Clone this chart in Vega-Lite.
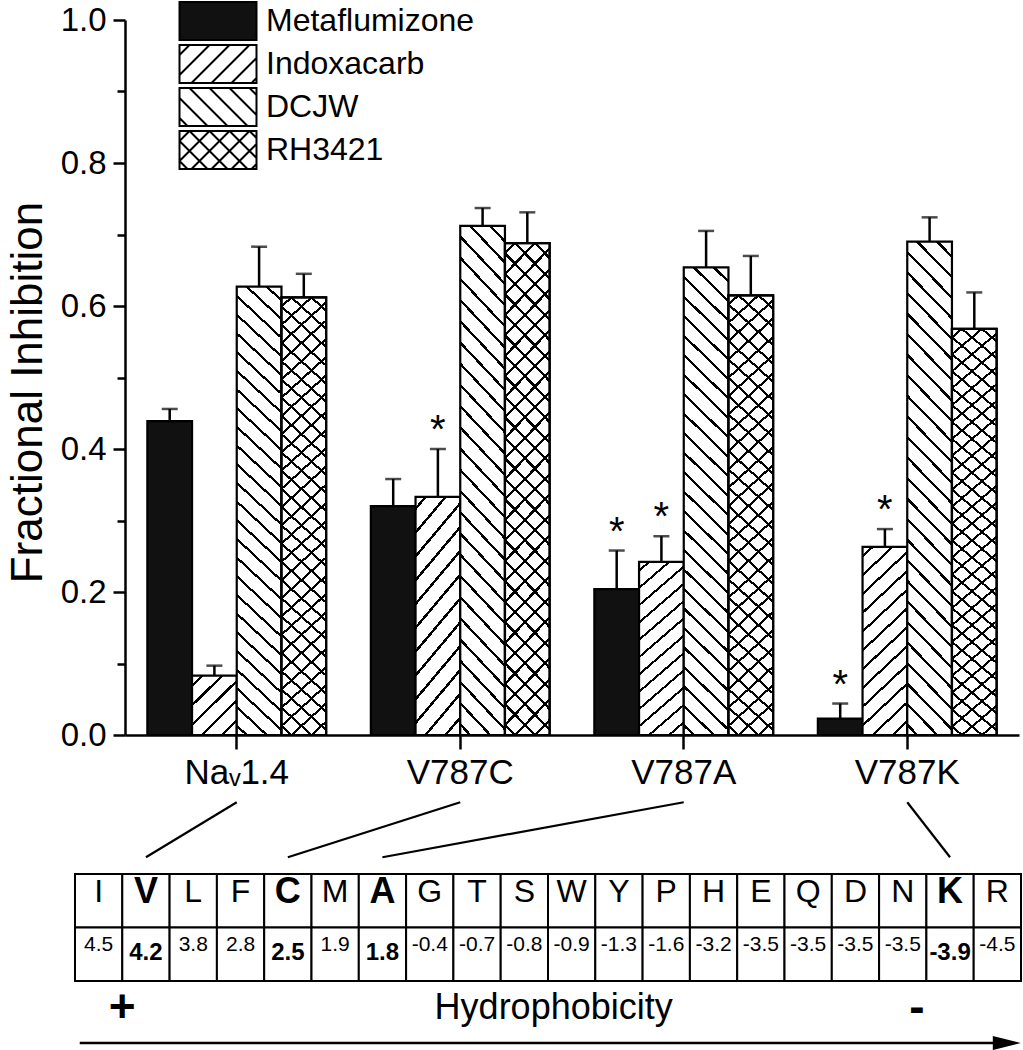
{
 "$schema": "https://vega.github.io/schema/vega-lite/v6.json",
 "width": 898,
 "height": 735,
 "autosize": {"type": "none"},
 "padding": {"left": 125, "top": 0, "right": 0, "bottom": 315},
 "background": "white",
 "config": {"view": {"stroke": null}, "font": "Liberation Sans"},
 "datasets": {
  "bars": [
   {"group": "Nav1.4", "drug": "Metaflumizone", "value": 0.439, "upper": 0.456, "sig": false},
   {"group": "Nav1.4", "drug": "Indoxacarb", "value": 0.083, "upper": 0.097, "sig": false},
   {"group": "Nav1.4", "drug": "DCJW", "value": 0.627, "upper": 0.683, "sig": false},
   {"group": "Nav1.4", "drug": "RH3421", "value": 0.612, "upper": 0.645, "sig": false},
   {"group": "V787C", "drug": "Metaflumizone", "value": 0.320, "upper": 0.358, "sig": false},
   {"group": "V787C", "drug": "Indoxacarb", "value": 0.333, "upper": 0.400, "sig": true},
   {"group": "V787C", "drug": "DCJW", "value": 0.712, "upper": 0.737, "sig": false},
   {"group": "V787C", "drug": "RH3421", "value": 0.688, "upper": 0.731, "sig": false},
   {"group": "V787A", "drug": "Metaflumizone", "value": 0.204, "upper": 0.258, "sig": true},
   {"group": "V787A", "drug": "Indoxacarb", "value": 0.242, "upper": 0.278, "sig": true},
   {"group": "V787A", "drug": "DCJW", "value": 0.654, "upper": 0.705, "sig": false},
   {"group": "V787A", "drug": "RH3421", "value": 0.615, "upper": 0.670, "sig": false},
   {"group": "V787K", "drug": "Metaflumizone", "value": 0.023, "upper": 0.044, "sig": true},
   {"group": "V787K", "drug": "Indoxacarb", "value": 0.263, "upper": 0.288, "sig": true},
   {"group": "V787K", "drug": "DCJW", "value": 0.690, "upper": 0.724, "sig": false},
   {"group": "V787K", "drug": "RH3421", "value": 0.568, "upper": 0.619, "sig": false}
  ],
  "residues": [
   {"aa": "I", "hyd": 4.5, "highlight": false},
   {"aa": "V", "hyd": 4.2, "highlight": true},
   {"aa": "L", "hyd": 3.8, "highlight": false},
   {"aa": "F", "hyd": 2.8, "highlight": false},
   {"aa": "C", "hyd": 2.5, "highlight": true},
   {"aa": "M", "hyd": 1.9, "highlight": false},
   {"aa": "A", "hyd": 1.8, "highlight": true},
   {"aa": "G", "hyd": -0.4, "highlight": false},
   {"aa": "T", "hyd": -0.7, "highlight": false},
   {"aa": "S", "hyd": -0.8, "highlight": false},
   {"aa": "W", "hyd": -0.9, "highlight": false},
   {"aa": "Y", "hyd": -1.3, "highlight": false},
   {"aa": "P", "hyd": -1.6, "highlight": false},
   {"aa": "H", "hyd": -3.2, "highlight": false},
   {"aa": "E", "hyd": -3.5, "highlight": false},
   {"aa": "Q", "hyd": -3.5, "highlight": false},
   {"aa": "D", "hyd": -3.5, "highlight": false},
   {"aa": "N", "hyd": -3.5, "highlight": false},
   {"aa": "K", "hyd": -3.9, "highlight": true},
   {"aa": "R", "hyd": -4.5, "highlight": false}
  ],
  "links": [
   {"group": "Nav1.4", "residue": "V"},
   {"group": "V787C", "residue": "C"},
   {"group": "V787A", "residue": "A"},
   {"group": "V787K", "residue": "K"}
  ]
 },
 "layer": [
  {
   "name": "chart",
   "data": {"name": "bars"},
   "layer": [
    {
     "mark": {"type": "bar", "strokeWidth": 2.2, "stroke": "black"},
     "encoding": {
      "x": {"field": "group", "type": "nominal", "sort": null,
            "scale": {"domain": ["Nav1.4", "V787C", "V787A", "V787K"], "range": [0, 894], "paddingInner": 0.2, "paddingOuter": 0.1},
            "axis": {"title": null, "labelAngle": 0, "labelFontSize": 35, "labelColor": "black", "labelPadding": 6,
                     "tickSize": 14, "tickWidth": 2.5, "tickColor": "black", "domainColor": "black", "domainWidth": 2.5, "grid": false,
                     "labelExpr": "datum.value === 'Nav1.4' ? 'Naᵥ1.4' : datum.value"}},
      "xOffset": {"field": "drug", "type": "nominal", "sort": null,
                  "scale": {"domain": ["Metaflumizone", "Indoxacarb", "DCJW", "RH3421"], "paddingInner": 0, "paddingOuter": 0}},
      "y": {"field": "value", "type": "quantitative",
            "scale": {"domain": [0, 1], "range": [735, 20], "nice": false, "zero": false},
            "axis": {"values": [0, 0.1, 0.2, 0.3, 0.4, 0.5, 0.6, 0.7, 0.8, 0.9, 1.0], "grid": false,
                     "labelExpr": "round(datum.value * 10) % 2 === 0 ? format(datum.value, '.1f') : ''",
                     "tickSize": {"condition": {"test": "round(datum.value * 10) % 2 === 1", "value": 8}, "value": 12},
                     "tickWidth": 2.5, "tickColor": "black", "domainColor": "black", "domainWidth": 2.5,
                     "labelFontSize": 33, "labelColor": "black", "labelPadding": 7,
                     "title": "Fractional Inhibition", "titleFontSize": 44, "titleFontWeight": "normal", "titleColor": "black",
                     "titlePadding": 10, "titleY": 392}},
      "fill": {
       "condition": [
        {"test": "datum.drug === 'Indoxacarb' && datum.value < 0.15",
         "value": {"gradient": "linear", "x1": 0, "y1": 0, "x2": 0.83602, "y2": 1.12218, "stops": [
          {"offset": 0.0802, "color": "white"}, {"offset": 0.0802, "color": "black"}, {"offset": 0.1108, "color": "black"}, {"offset": 0.1108, "color": "white"},
          {"offset": 0.2713, "color": "white"}, {"offset": 0.2713, "color": "black"}, {"offset": 0.3018, "color": "black"}, {"offset": 0.3018, "color": "white"},
          {"offset": 0.4623, "color": "white"}, {"offset": 0.4623, "color": "black"}, {"offset": 0.4928, "color": "black"}, {"offset": 0.4928, "color": "white"},
          {"offset": 0.6533, "color": "white"}, {"offset": 0.6533, "color": "black"}, {"offset": 0.6839, "color": "black"}, {"offset": 0.6839, "color": "white"},
          {"offset": 0.8443, "color": "white"}, {"offset": 0.8443, "color": "black"}, {"offset": 0.8749, "color": "black"}, {"offset": 0.8749, "color": "white"}
         ]}},
        {"test": "datum.drug === 'Indoxacarb'",
         "value": {"gradient": "linear", "x1": 0, "y1": 0, "x2": 0.26044, "y2": 1.1653, "stops": [
          {"offset": 0.0343, "color": "white"}, {"offset": 0.0343, "color": "black"}, {"offset": 0.0474, "color": "black"}, {"offset": 0.0474, "color": "white"},
          {"offset": 0.1161, "color": "white"}, {"offset": 0.1161, "color": "black"}, {"offset": 0.1291, "color": "black"}, {"offset": 0.1291, "color": "white"},
          {"offset": 0.1978, "color": "white"}, {"offset": 0.1978, "color": "black"}, {"offset": 0.2109, "color": "black"}, {"offset": 0.2109, "color": "white"},
          {"offset": 0.2795, "color": "white"}, {"offset": 0.2795, "color": "black"}, {"offset": 0.2926, "color": "black"}, {"offset": 0.2926, "color": "white"},
          {"offset": 0.3613, "color": "white"}, {"offset": 0.3613, "color": "black"}, {"offset": 0.3743, "color": "black"}, {"offset": 0.3743, "color": "white"},
          {"offset": 0.4430, "color": "white"}, {"offset": 0.4430, "color": "black"}, {"offset": 0.4561, "color": "black"}, {"offset": 0.4561, "color": "white"},
          {"offset": 0.5247, "color": "white"}, {"offset": 0.5247, "color": "black"}, {"offset": 0.5378, "color": "black"}, {"offset": 0.5378, "color": "white"},
          {"offset": 0.6065, "color": "white"}, {"offset": 0.6065, "color": "black"}, {"offset": 0.6195, "color": "black"}, {"offset": 0.6195, "color": "white"},
          {"offset": 0.6882, "color": "white"}, {"offset": 0.6882, "color": "black"}, {"offset": 0.7013, "color": "black"}, {"offset": 0.7013, "color": "white"},
          {"offset": 0.7699, "color": "white"}, {"offset": 0.7699, "color": "black"}, {"offset": 0.7830, "color": "black"}, {"offset": 0.7830, "color": "white"},
          {"offset": 0.8517, "color": "white"}, {"offset": 0.8517, "color": "black"}, {"offset": 0.8647, "color": "black"}, {"offset": 0.8647, "color": "white"},
          {"offset": 0.9334, "color": "white"}, {"offset": 0.9334, "color": "black"}, {"offset": 0.9465, "color": "black"}, {"offset": 0.9465, "color": "white"}
         ]}},
        {"test": "datum.drug === 'DCJW' || datum.drug === 'RH3421'",
         "value": {"gradient": "linear", "x1": 0, "y1": 1, "x2": 0.10092, "y2": -0.08374, "stops": [
          {"offset": 0.01601, "color": "white"}, {"offset": 0.01601, "color": "black"}, {"offset": 0.02211, "color": "black"}, {"offset": 0.02211, "color": "white"},
          {"offset": 0.05413, "color": "white"}, {"offset": 0.05413, "color": "black"}, {"offset": 0.06023, "color": "black"}, {"offset": 0.06023, "color": "white"},
          {"offset": 0.09225, "color": "white"}, {"offset": 0.09225, "color": "black"}, {"offset": 0.09834, "color": "black"}, {"offset": 0.09834, "color": "white"},
          {"offset": 0.13036, "color": "white"}, {"offset": 0.13036, "color": "black"}, {"offset": 0.13646, "color": "black"}, {"offset": 0.13646, "color": "white"},
          {"offset": 0.16848, "color": "white"}, {"offset": 0.16848, "color": "black"}, {"offset": 0.17458, "color": "black"}, {"offset": 0.17458, "color": "white"},
          {"offset": 0.20660, "color": "white"}, {"offset": 0.20660, "color": "black"}, {"offset": 0.21270, "color": "black"}, {"offset": 0.21270, "color": "white"},
          {"offset": 0.24472, "color": "white"}, {"offset": 0.24472, "color": "black"}, {"offset": 0.25082, "color": "black"}, {"offset": 0.25082, "color": "white"},
          {"offset": 0.28284, "color": "white"}, {"offset": 0.28284, "color": "black"}, {"offset": 0.28893, "color": "black"}, {"offset": 0.28893, "color": "white"},
          {"offset": 0.32095, "color": "white"}, {"offset": 0.32095, "color": "black"}, {"offset": 0.32705, "color": "black"}, {"offset": 0.32705, "color": "white"},
          {"offset": 0.35907, "color": "white"}, {"offset": 0.35907, "color": "black"}, {"offset": 0.36517, "color": "black"}, {"offset": 0.36517, "color": "white"},
          {"offset": 0.39719, "color": "white"}, {"offset": 0.39719, "color": "black"}, {"offset": 0.40329, "color": "black"}, {"offset": 0.40329, "color": "white"},
          {"offset": 0.43531, "color": "white"}, {"offset": 0.43531, "color": "black"}, {"offset": 0.44140, "color": "black"}, {"offset": 0.44140, "color": "white"},
          {"offset": 0.47343, "color": "white"}, {"offset": 0.47343, "color": "black"}, {"offset": 0.47952, "color": "black"}, {"offset": 0.47952, "color": "white"},
          {"offset": 0.51154, "color": "white"}, {"offset": 0.51154, "color": "black"}, {"offset": 0.51764, "color": "black"}, {"offset": 0.51764, "color": "white"},
          {"offset": 0.54966, "color": "white"}, {"offset": 0.54966, "color": "black"}, {"offset": 0.55576, "color": "black"}, {"offset": 0.55576, "color": "white"},
          {"offset": 0.58778, "color": "white"}, {"offset": 0.58778, "color": "black"}, {"offset": 0.59388, "color": "black"}, {"offset": 0.59388, "color": "white"},
          {"offset": 0.62590, "color": "white"}, {"offset": 0.62590, "color": "black"}, {"offset": 0.63199, "color": "black"}, {"offset": 0.63199, "color": "white"},
          {"offset": 0.66401, "color": "white"}, {"offset": 0.66401, "color": "black"}, {"offset": 0.67011, "color": "black"}, {"offset": 0.67011, "color": "white"},
          {"offset": 0.70213, "color": "white"}, {"offset": 0.70213, "color": "black"}, {"offset": 0.70823, "color": "black"}, {"offset": 0.70823, "color": "white"},
          {"offset": 0.74025, "color": "white"}, {"offset": 0.74025, "color": "black"}, {"offset": 0.74635, "color": "black"}, {"offset": 0.74635, "color": "white"},
          {"offset": 0.77837, "color": "white"}, {"offset": 0.77837, "color": "black"}, {"offset": 0.78447, "color": "black"}, {"offset": 0.78447, "color": "white"},
          {"offset": 0.81649, "color": "white"}, {"offset": 0.81649, "color": "black"}, {"offset": 0.82258, "color": "black"}, {"offset": 0.82258, "color": "white"},
          {"offset": 0.85460, "color": "white"}, {"offset": 0.85460, "color": "black"}, {"offset": 0.86070, "color": "black"}, {"offset": 0.86070, "color": "white"},
          {"offset": 0.89272, "color": "white"}, {"offset": 0.89272, "color": "black"}, {"offset": 0.89882, "color": "black"}, {"offset": 0.89882, "color": "white"},
          {"offset": 0.93084, "color": "white"}, {"offset": 0.93084, "color": "black"}, {"offset": 0.93694, "color": "black"}, {"offset": 0.93694, "color": "white"},
          {"offset": 0.96895, "color": "white"}, {"offset": 0.96895, "color": "black"}, {"offset": 0.97505, "color": "black"}, {"offset": 0.97505, "color": "white"}
         ]}}
       ],
       "value": "#111111"
      }
     }
    },
    {
     "transform": [{"filter": "datum.drug === 'RH3421'"}],
     "mark": {"type": "bar", "strokeWidth": 2.2, "stroke": "black",
              "fill": {"gradient": "linear", "x1": 0, "y1": 0, "x2": 0.10092, "y2": 1.08374, "stops": [
          {"offset": 0.01601, "color": "rgba(255,255,255,0)"}, {"offset": 0.01601, "color": "black"}, {"offset": 0.02211, "color": "black"}, {"offset": 0.02211, "color": "rgba(255,255,255,0)"},
          {"offset": 0.05413, "color": "rgba(255,255,255,0)"}, {"offset": 0.05413, "color": "black"}, {"offset": 0.06023, "color": "black"}, {"offset": 0.06023, "color": "rgba(255,255,255,0)"},
          {"offset": 0.09225, "color": "rgba(255,255,255,0)"}, {"offset": 0.09225, "color": "black"}, {"offset": 0.09834, "color": "black"}, {"offset": 0.09834, "color": "rgba(255,255,255,0)"},
          {"offset": 0.13036, "color": "rgba(255,255,255,0)"}, {"offset": 0.13036, "color": "black"}, {"offset": 0.13646, "color": "black"}, {"offset": 0.13646, "color": "rgba(255,255,255,0)"},
          {"offset": 0.16848, "color": "rgba(255,255,255,0)"}, {"offset": 0.16848, "color": "black"}, {"offset": 0.17458, "color": "black"}, {"offset": 0.17458, "color": "rgba(255,255,255,0)"},
          {"offset": 0.20660, "color": "rgba(255,255,255,0)"}, {"offset": 0.20660, "color": "black"}, {"offset": 0.21270, "color": "black"}, {"offset": 0.21270, "color": "rgba(255,255,255,0)"},
          {"offset": 0.24472, "color": "rgba(255,255,255,0)"}, {"offset": 0.24472, "color": "black"}, {"offset": 0.25082, "color": "black"}, {"offset": 0.25082, "color": "rgba(255,255,255,0)"},
          {"offset": 0.28284, "color": "rgba(255,255,255,0)"}, {"offset": 0.28284, "color": "black"}, {"offset": 0.28893, "color": "black"}, {"offset": 0.28893, "color": "rgba(255,255,255,0)"},
          {"offset": 0.32095, "color": "rgba(255,255,255,0)"}, {"offset": 0.32095, "color": "black"}, {"offset": 0.32705, "color": "black"}, {"offset": 0.32705, "color": "rgba(255,255,255,0)"},
          {"offset": 0.35907, "color": "rgba(255,255,255,0)"}, {"offset": 0.35907, "color": "black"}, {"offset": 0.36517, "color": "black"}, {"offset": 0.36517, "color": "rgba(255,255,255,0)"},
          {"offset": 0.39719, "color": "rgba(255,255,255,0)"}, {"offset": 0.39719, "color": "black"}, {"offset": 0.40329, "color": "black"}, {"offset": 0.40329, "color": "rgba(255,255,255,0)"},
          {"offset": 0.43531, "color": "rgba(255,255,255,0)"}, {"offset": 0.43531, "color": "black"}, {"offset": 0.44140, "color": "black"}, {"offset": 0.44140, "color": "rgba(255,255,255,0)"},
          {"offset": 0.47343, "color": "rgba(255,255,255,0)"}, {"offset": 0.47343, "color": "black"}, {"offset": 0.47952, "color": "black"}, {"offset": 0.47952, "color": "rgba(255,255,255,0)"},
          {"offset": 0.51154, "color": "rgba(255,255,255,0)"}, {"offset": 0.51154, "color": "black"}, {"offset": 0.51764, "color": "black"}, {"offset": 0.51764, "color": "rgba(255,255,255,0)"},
          {"offset": 0.54966, "color": "rgba(255,255,255,0)"}, {"offset": 0.54966, "color": "black"}, {"offset": 0.55576, "color": "black"}, {"offset": 0.55576, "color": "rgba(255,255,255,0)"},
          {"offset": 0.58778, "color": "rgba(255,255,255,0)"}, {"offset": 0.58778, "color": "black"}, {"offset": 0.59388, "color": "black"}, {"offset": 0.59388, "color": "rgba(255,255,255,0)"},
          {"offset": 0.62590, "color": "rgba(255,255,255,0)"}, {"offset": 0.62590, "color": "black"}, {"offset": 0.63199, "color": "black"}, {"offset": 0.63199, "color": "rgba(255,255,255,0)"},
          {"offset": 0.66401, "color": "rgba(255,255,255,0)"}, {"offset": 0.66401, "color": "black"}, {"offset": 0.67011, "color": "black"}, {"offset": 0.67011, "color": "rgba(255,255,255,0)"},
          {"offset": 0.70213, "color": "rgba(255,255,255,0)"}, {"offset": 0.70213, "color": "black"}, {"offset": 0.70823, "color": "black"}, {"offset": 0.70823, "color": "rgba(255,255,255,0)"},
          {"offset": 0.74025, "color": "rgba(255,255,255,0)"}, {"offset": 0.74025, "color": "black"}, {"offset": 0.74635, "color": "black"}, {"offset": 0.74635, "color": "rgba(255,255,255,0)"},
          {"offset": 0.77837, "color": "rgba(255,255,255,0)"}, {"offset": 0.77837, "color": "black"}, {"offset": 0.78447, "color": "black"}, {"offset": 0.78447, "color": "rgba(255,255,255,0)"},
          {"offset": 0.81649, "color": "rgba(255,255,255,0)"}, {"offset": 0.81649, "color": "black"}, {"offset": 0.82258, "color": "black"}, {"offset": 0.82258, "color": "rgba(255,255,255,0)"},
          {"offset": 0.85460, "color": "rgba(255,255,255,0)"}, {"offset": 0.85460, "color": "black"}, {"offset": 0.86070, "color": "black"}, {"offset": 0.86070, "color": "rgba(255,255,255,0)"},
          {"offset": 0.89272, "color": "rgba(255,255,255,0)"}, {"offset": 0.89272, "color": "black"}, {"offset": 0.89882, "color": "black"}, {"offset": 0.89882, "color": "rgba(255,255,255,0)"},
          {"offset": 0.93084, "color": "rgba(255,255,255,0)"}, {"offset": 0.93084, "color": "black"}, {"offset": 0.93694, "color": "black"}, {"offset": 0.93694, "color": "rgba(255,255,255,0)"},
          {"offset": 0.96895, "color": "rgba(255,255,255,0)"}, {"offset": 0.96895, "color": "black"}, {"offset": 0.97505, "color": "black"}, {"offset": 0.97505, "color": "rgba(255,255,255,0)"}
         ]}},
     "encoding": {
      "x": {"field": "group", "type": "nominal"},
      "xOffset": {"field": "drug", "type": "nominal"},
      "y": {"field": "value", "type": "quantitative"}
     }
    },
    {
     "mark": {"type": "rule", "strokeWidth": 2.5, "color": "black"},
     "encoding": {
      "x": {"field": "group", "type": "nominal"},
      "xOffset": {"field": "drug", "type": "nominal"},
      "y": {"field": "value", "type": "quantitative"},
      "y2": {"field": "upper"}
     }
    },
    {
     "mark": {"type": "tick", "thickness": 2.5, "size": 16, "color": "black", "orient": "horizontal"},
     "encoding": {
      "x": {"field": "group", "type": "nominal"},
      "xOffset": {"field": "drug", "type": "nominal"},
      "y": {"field": "upper", "type": "quantitative"}
     }
    },
    {
     "transform": [{"filter": "datum.sig"}],
     "mark": {"type": "text", "text": "*", "fontSize": 40, "baseline": "alphabetic", "dy": -6, "color": "black"},
     "encoding": {
      "x": {"field": "group", "type": "nominal"},
      "xOffset": {"field": "drug", "type": "nominal"},
      "y": {"field": "upper", "type": "quantitative"}
     }
    },
    {
     "mark": {"type": "point", "opacity": 0, "filled": true},
     "encoding": {
      "x": {"field": "group", "type": "nominal"},
      "xOffset": {"field": "drug", "type": "nominal"},
      "y": {"field": "value", "type": "quantitative"},
      "shape": {"field": "drug", "type": "nominal",
                "scale": {"domain": ["Metaflumizone", "Indoxacarb", "DCJW", "RH3421"],
                          "range": ["M-2.026,-1H2.026V1H-2.026Z",
                                    "M-2.026,-1H2.026V1H-2.026ZM-1.5,-1L-2.026,-0.474M-0.447,-1L-2.026,0.579M0.605,-1L-1.395,1M1.658,-1L-0.342,1M2.026,-0.316L0.711,1M2.026,0.737L1.763,1",
                                    "M-2.026,-1H2.026V1H-2.026ZM-2.026,0.579L-1.605,1M-2.026,-0.474L-0.553,1M-1.5,-1L0.5,1M-0.447,-1L1.553,1M0.605,-1L2.026,0.421M1.658,-1L2.026,-0.632",
                                    "M-2.026,-1H2.026V1H-2.026ZM-1.5,-1L-2.026,-0.474M-0.447,-1L-2.026,0.579M0.605,-1L-1.395,1M1.658,-1L-0.342,1M2.026,-0.316L0.711,1M2.026,0.737L1.763,1M-2.026,0.579L-1.605,1M-2.026,-0.474L-0.553,1M-1.5,-1L0.5,1M-0.447,-1L1.553,1M0.605,-1L2.026,0.421M1.658,-1L2.026,-0.632"]},
                "legend": {"title": null, "orient": "none", "legendX": 73, "legendY": 1, "direction": "vertical", "padding": 0,
                           "symbolSize": 1444, "symbolStrokeWidth": 2, "symbolStrokeColor": "black", "symbolOpacity": 1,
                           "labelFontSize": 32, "labelColor": "black", "labelOffset": 28, "labelLimit": 400, "rowPadding": -4}},
      "fill": {"field": "drug", "type": "nominal",
               "scale": {"domain": ["Metaflumizone", "Indoxacarb", "DCJW", "RH3421"], "range": ["#111111", "white", "white", "white"]},
               "legend": {"title": null, "orient": "none", "legendX": 73, "legendY": 1, "direction": "vertical", "padding": 0,
                          "symbolSize": 1444, "symbolStrokeWidth": 2, "symbolStrokeColor": "black", "symbolOpacity": 1,
                          "labelFontSize": 32, "labelColor": "black", "labelOffset": 28, "labelLimit": 400, "rowPadding": -4}},
      "stroke": {"field": "drug", "type": "nominal",
                 "scale": {"domain": ["Metaflumizone", "Indoxacarb", "DCJW", "RH3421"], "range": ["black", "black", "black", "black"]},
                 "legend": {"title": null, "orient": "none", "legendX": 73, "legendY": 1, "direction": "vertical", "padding": 0,
                            "symbolSize": 1444, "symbolStrokeWidth": 2, "symbolStrokeColor": "black", "symbolOpacity": 1,
                            "labelFontSize": 32, "labelColor": "black", "labelOffset": 28, "labelLimit": 400, "rowPadding": -4}}
     }
    },
    {
     "data": {"name": "links"},
     "mark": {"type": "rule", "strokeWidth": 2.2, "color": "black"},
     "encoding": {
      "x": {"field": "group", "type": "nominal"},
      "x2": {"value": {"expr": "scale('table_x', datum.residue) + bandwidth('table_x') / 2"}},
      "y": {"datum": -0.094, "type": "quantitative"},
      "y2": {"datum": -0.171}
     }
    }
   ]
  },
  {
   "name": "table",
   "data": {"name": "residues"},
   "encoding": {
    "x": {"field": "aa", "type": "nominal", "sort": null,
          "scale": {"domain": ["I", "V", "L", "F", "C", "M", "A", "G", "T", "S", "W", "Y", "P", "H", "E", "Q", "D", "N", "K", "R"], "range": [-50, 896], "paddingInner": 0, "paddingOuter": 0},
          "axis": null}
   },
   "layer": [
    {
     "mark": {"type": "rect", "fill": "white", "stroke": "black", "strokeWidth": 2},
     "encoding": {"y": {"datum": "aa", "type": "nominal", "axis": null,
                        "scale": {"domain": ["aa", "hyd", "sign", "arrow"], "range": [874, 1088], "paddingInner": 0, "paddingOuter": 0}}}
    },
    {
     "mark": {"type": "rect", "fill": "white", "stroke": "black", "strokeWidth": 2},
     "encoding": {"y": {"datum": "hyd", "type": "nominal", "axis": null}}
    },
    {
     "transform": [{"filter": "!datum.highlight"}],
     "mark": {"type": "text", "fontSize": 32, "color": "black"},
     "encoding": {"y": {"datum": "aa", "type": "nominal", "bandPosition": 0.33, "axis": null}, "text": {"field": "aa"}}
    },
    {
     "transform": [{"filter": "datum.highlight"}],
     "mark": {"type": "text", "fontSize": 36, "fontWeight": "bold", "color": "black"},
     "encoding": {"y": {"datum": "aa", "type": "nominal", "bandPosition": 0.33, "axis": null}, "text": {"field": "aa"}}
    },
    {
     "transform": [{"filter": "!datum.highlight"}],
     "mark": {"type": "text", "fontSize": 21, "color": "black"},
     "encoding": {"y": {"datum": "hyd", "type": "nominal", "bandPosition": 0.33, "axis": null}, "text": {"field": "hyd", "type": "nominal"}}
    },
    {
     "transform": [{"filter": "datum.highlight"}],
     "mark": {"type": "text", "fontSize": 24, "fontWeight": "bold", "color": "black"},
     "encoding": {"y": {"datum": "hyd", "type": "nominal", "bandPosition": 0.48, "axis": null}, "text": {"field": "hyd", "type": "nominal"}}
    },
    {
     "data": {"values": [{"label": "+"}]},
     "mark": {"type": "text", "fontSize": 46, "fontWeight": "bold", "color": "black"},
     "encoding": {"x": {"datum": "V", "type": "nominal", "bandPosition": 0, "axis": null},
                  "y": {"datum": "sign", "type": "nominal", "bandPosition": 0.5, "axis": null},
                  "text": {"field": "label"}}
    },
    {
     "data": {"values": [{"label": "Hydrophobicity"}]},
     "mark": {"type": "text", "fontSize": 36, "color": "black"},
     "encoding": {"x": {"datum": "W", "type": "nominal", "bandPosition": 0.12, "axis": null},
                  "y": {"datum": "sign", "type": "nominal", "bandPosition": 0.5, "axis": null},
                  "text": {"field": "label"}}
    },
    {
     "data": {"values": [{"label": "-"}]},
     "mark": {"type": "text", "fontSize": 46, "fontWeight": "bold", "color": "black"},
     "encoding": {"x": {"datum": "N", "type": "nominal", "bandPosition": 0.8, "axis": null},
                  "y": {"datum": "sign", "type": "nominal", "bandPosition": 0.5, "axis": null},
                  "text": {"field": "label"}}
    },
    {
     "data": {"values": [{"label": "arrow"}]},
     "mark": {"type": "rule", "strokeWidth": 2.5, "color": "black"},
     "encoding": {"x": {"datum": "I", "type": "nominal", "bandPosition": 0.1, "axis": null},
                  "x2": {"datum": "R", "bandPosition": 0.7},
                  "y": {"datum": "arrow", "type": "nominal", "bandPosition": 0.16, "axis": null}}
    },
    {
     "data": {"values": [{"label": "arrow"}]},
     "mark": {"type": "point", "shape": "M-1,-0.5L1,0L-1,0.5Z", "filled": true, "color": "black", "size": 784, "opacity": 1, "strokeWidth": 0},
     "encoding": {"x": {"datum": "R", "type": "nominal", "bandPosition": 0.7, "axis": null},
                  "y": {"datum": "arrow", "type": "nominal", "bandPosition": 0.16, "axis": null}}
    }
   ]
  }
 ],
 "resolve": {"scale": {"x": "independent", "y": "independent"}}
}
